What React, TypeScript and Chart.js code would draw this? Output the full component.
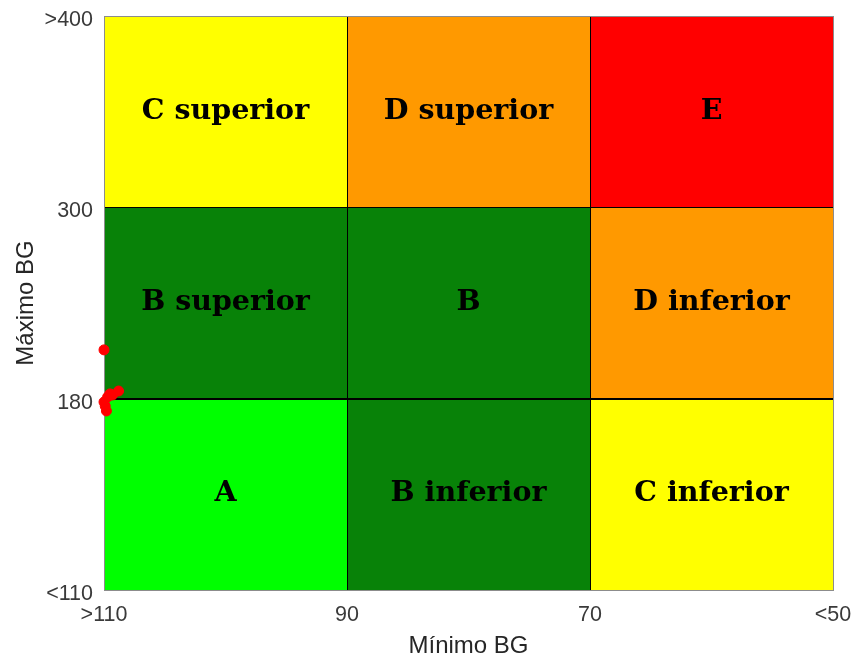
import React, { useEffect, useRef } from "react";
import { Chart, registerables } from "chart.js";

Chart.register(...registerables);

// Axis tick labels (grid boundaries)
const xTickLabels = [">110", "90", "70", "<50"];
const yTickLabels = ["<110", "180", "300", ">400"];
// Real BG boundaries used for piecewise mapping onto the 3x3 grid
const xBounds = [110, 90, 70, 50];
const yBounds = [110, 180, 300, 400];

// Zone labels, rows from bottom to top, columns from left to right
const zoneLabels = [
  ["A", "B inferior", "C inferior"],
  ["B superior", "B", "D inferior"],
  ["C superior", "D superior", "E"],
];
const zoneColors = [
  ["#00ff00", "#088208", "#ffff00"],
  ["#088208", "#088208", "#ff9900"],
  ["#ffff00", "#ff9900", "#ff0000"],
];

// Patient points: minimum BG and maximum BG (mg/dL)
const minBG = [110.0, 108.8, 109.3, 109.7, 110.0, 109.9, 109.8, 109.5];
const maxBG = [210.6, 184.8, 182.3, 181.1, 178.8, 177.3, 175.5, 183.0];

function toGrid(v: number, bounds: number[]): number {
  const desc = bounds[0] > bounds[bounds.length - 1];
  for (let i = 0; i < bounds.length - 1; i++) {
    const a = bounds[i];
    const b = bounds[i + 1];
    const inSeg = desc ? v <= a && v >= b : v >= a && v <= b;
    if (inSeg) return i + (v - a) / (b - a);
  }
  if (desc) return v > bounds[0] ? 0 : bounds.length - 1;
  return v < bounds[0] ? 0 : bounds.length - 1;
}

const gridPlugin = {
  id: "cvgaGrid",
  beforeDatasetsDraw(chart: any) {
    const { ctx, scales } = chart;
    const xs = scales.x;
    const ys = scales.y;
    ctx.save();
    for (let r = 0; r < 3; r++) {
      for (let c = 0; c < 3; c++) {
        const x0 = xs.getPixelForValue(c);
        const x1 = xs.getPixelForValue(c + 1);
        const y0 = ys.getPixelForValue(r + 1);
        const y1 = ys.getPixelForValue(r);
        ctx.fillStyle = zoneColors[r][c];
        ctx.fillRect(x0, y0, x1 - x0, y1 - y0);
      }
    }
    for (let r = 0; r < 3; r++) {
      for (let c = 0; c < 3; c++) {
        const x0 = xs.getPixelForValue(c);
        const x1 = xs.getPixelForValue(c + 1);
        const y0 = ys.getPixelForValue(r + 1);
        const y1 = ys.getPixelForValue(r);
        ctx.strokeStyle = "#000000";
        ctx.lineWidth = 1;
        ctx.strokeRect(Math.round(x0) + 0.5, Math.round(y0) + 0.5, Math.round(x1 - x0), Math.round(y1 - y0));
        ctx.fillStyle = "#000000";
        ctx.font = "bold 28.5px 'DejaVu Serif', serif";
        ctx.textAlign = "center";
        ctx.textBaseline = "alphabetic";
        ctx.fillText(zoneLabels[r][c], (x0 + x1) / 2, (y0 + y1) / 2 + 7);
      }
    }
    const a = chart.chartArea;
    ctx.strokeStyle = "#8c8c8c";
    ctx.strokeRect(Math.round(a.left) + 0.5, Math.round(a.top) + 0.5, Math.round(a.right - a.left), Math.round(a.bottom - a.top));
    ctx.restore();
  },
};

const tickFont = { family: "'Liberation Sans', Arial, sans-serif", size: 21.5 };
const titleFont = { family: "'Liberation Sans', Arial, sans-serif", size: 24 };

export default function App() {
  const ref = useRef<HTMLCanvasElement | null>(null);
  useEffect(() => {
    if (!ref.current) return;
    const pts = minBG.map((m, i) => ({ x: toGrid(m, xBounds), y: toGrid(maxBG[i], yBounds) }));
    const chart = new Chart(ref.current, {
      type: "scatter",
      data: {
        datasets: [
          {
            data: pts,
            backgroundColor: "#ff0000",
            borderColor: "#ff0000",
            pointRadius: 5,
            pointHoverRadius: 5,
            clip: false as any,
          },
        ],
      },
      plugins: [gridPlugin],
      options: {
        responsive: false,
        animation: false,
        events: [],
        layout: { padding: { left: 0, right: 24, top: 16, bottom: 0 } },
        plugins: { legend: { display: false }, tooltip: { enabled: false } },
        scales: {
          x: {
            type: "linear",
            min: 0,
            max: 3,
            afterFit: (s: any) => {
              s.height = 74;
              s.paddingLeft = 0;
              s.paddingRight = 0;
            },
            afterBuildTicks: (s: any) => {
              s.ticks = [0, 1, 2, 3].map((v) => ({ value: v }));
            },
            grid: { display: false, drawTicks: false },
            border: { display: false },
            ticks: {
              padding: 12,
              color: "#3a3a3a",
              font: tickFont,
              callback: (v: any) => xTickLabels[Number(v)] ?? "",
              maxRotation: 0,
              autoSkip: false,
            },
            title: {
              display: true,
              text: "Mínimo BG",
              color: "#262626",
              font: titleFont,
              padding: { top: 0, bottom: 3 },
            },
          },
          y: {
            type: "linear",
            min: 0,
            max: 3,
            afterFit: (s: any) => {
              s.width = 104;
              s.paddingTop = 0;
              s.paddingBottom = 0;
            },
            afterBuildTicks: (s: any) => {
              s.ticks = [0, 1, 2, 3].map((v) => ({ value: v }));
            },
            grid: { display: false, drawTicks: false },
            border: { display: false },
            ticks: {
              padding: 11,
              labelOffset: 4,
              color: "#3a3a3a",
              font: tickFont,
              callback: (v: any) => yTickLabels[Number(v)] ?? "",
              autoSkip: false,
            },
            title: {
              display: true,
              text: "Máximo BG",
              color: "#262626",
              font: titleFont,
              padding: { top: 12, bottom: 0 },
            },
          },
        },
      },
    });
    return () => chart.destroy();
  }, []);
  return (
    <div style={{ position: "fixed", left: 0, top: 0, width: 857, height: 664, background: "#fff" }}>
      <canvas ref={ref} width={857} height={664} style={{ width: 857, height: 664 }} />
    </div>
  );
}
